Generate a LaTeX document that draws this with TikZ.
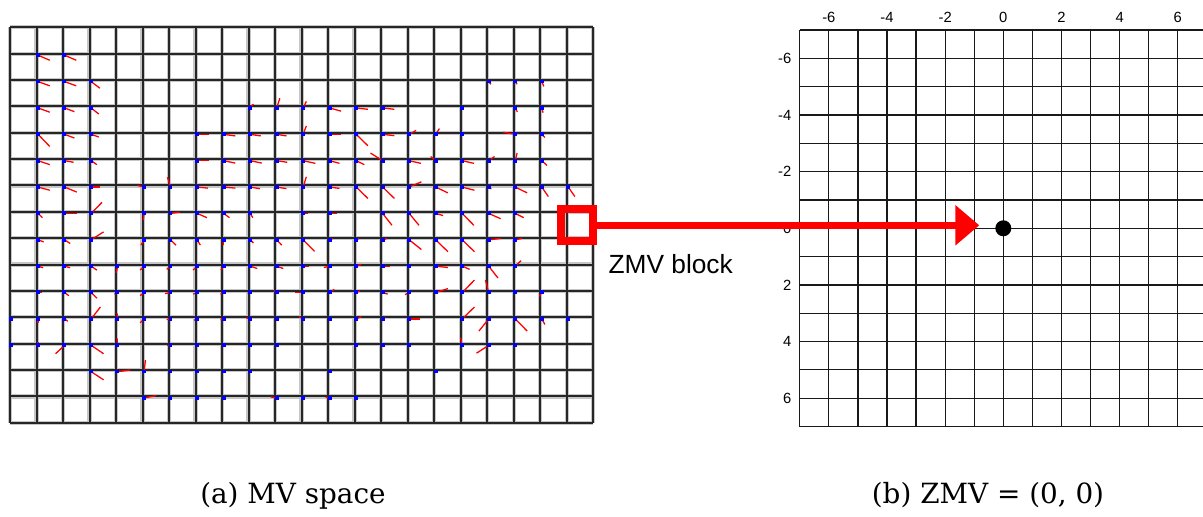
\documentclass[tikz,border=0pt]{standalone}
\usepackage{fontspec}
\setmainfont{DejaVu Serif}
\newfontfamily\sansfont{Liberation Sans}
\usetikzlibrary{arrows.meta}
\tikzset{
  lgrid/.style={black!85, line width=0.05cm, preaction={draw=gray!45, line width=0.105cm}},
  rgrid/.style={black!90, line width=0.03cm},
  mvline/.style={red, line width=0.032cm},
  mvdot/.style={fill=blue},
  tick/.style={font=\sansfont\fontsize{10.5}{12}\selectfont, inner sep=0},
  caption/.style={font=\fontsize{19.8}{22}\selectfont, inner sep=0, anchor=base},
}
%Vecteurs : colonne/ligne/dx/dy
\def\mvdata{1/1/.44/.19, 2/1/.44/.19,
1/2/.44/.16, 2/2/.44/.16, 3/2/.33/.25, 18/2/.08/.1, 19/2/.07/.1, 20/2/.08/.18,
1/3/.44/.16, 2/3/.37/.14, 3/3/.29/.23, 9/3/.12/-.15, 10/3/.12/-.37, 11/3/.12/-.25, 12/3/.43/.12, 13/3/.44/.05, 14/3/.44/.05, 17/3/0/0, 19/3/.08/.15, 20/3/.05/.18,
1/4/.44/.46, 2/4/.37/.14, 3/4/.29/.1, 7/4/.45/0, 8/4/.44/.06, 9/4/.4/.06, 10/4/.37/.06, 11/4/.12/-.32, 12/4/.43/0, 13/4/.44/.43, 14/4/.44/.05, 15/4/.26/-.15, 16/4/.14/-.22, 17/4/0/0, 19/4/-.45/-.08, 20/4/.12/.12,
1/5/.44/.15, 2/5/.34/.06, 3/5/.22/.15, 7/5/.45/0, 8/5/.44/.09, 9/5/.44/.09, 10/5/.4/.06, 11/5/.46/.1, 12/5/.37/.1, 13/5/.31/.15, 14/5/-.46/-.29, 15/5/.44/.1, 16/5/-.19/-.16, 17/5/.44/.1, 18/5/.22/-.16, 19/5/.07/-.29, 20/5/.2/.18,
1/6/.44/.12, 2/6/.46/.19, 3/6/.35/0, 5/6/-.25/-.06, 6/6/-.12/-.37, 7/6/.41/.04, 8/6/.44/.04, 9/6/.37/.06, 10/6/.37/.06, 11/6/.12/-.39, 12/6/.37/.05, 13/6/.44/.43, 14/6/.44/.43, 15/6/.46/-.2, 16/6/.46/.22, 17/6/.46/.12, 18/6/.1/.07, 19/6/.45/.22, 20/6/.25/.36, 21/6/.25/.36,
1/7/.16/.16, 2/7/.46/0, 3/7/.41/-.42, 5/7/-.03/.25, 6/7/.34/-.05, 7/7/.37/.16, 8/7/.22/.16, 9/7/.1/.16, 11/7/.2/0, 12/7/.28/0, 14/7/.35/.45, 15/7/.37/.45, 16/7/.28/.08, 17/7/.44/.45, 18/7/.45/.2, 19/7/.32/.16,
1/8/.21/.08, 2/8/.21/.14, 3/8/.47/-.3, 5/8/-.12/.2, 6/8/.2/.2, 7/8/.12/.2, 8/8/-.02/.2, 9/8/.12/.12, 10/8/.19/.2, 11/8/.43/.44, 12/8/.12/-.05, 13/8/.1/-.05, 14/8/.16/-.05, 15/8/.46/.37, 16/8/.46/.45, 17/8/.46/.45, 18/8/.45/-.05, 19/8/.25/-.05,
1/9/.19/.06, 2/9/.21/.06, 3/9/.22/.15, 4/9/-.05/.25, 5/9/-.15/.15, 6/9/-.15/.12, 7/9/-.15/.15, 8/9/-.1/.15, 9/9/.27/.09, 10/9/.25/.09, 11/9/.21/0, 12/9/-.22/.05, 13/9/.19/-.07, 14/9/.26/0, 15/9/0/0, 16/9/.46/.05, 17/9/.28/.12, 18/9/.35/.45, 19/9/.22/-.21,
1/10/.16/0, 2/10/.16/.12, 3/10/.22/.21, 4/10/-.12/.06, 5/10/-.15/.12, 6/10/-.21/.04, 7/10/-.15/.06, 8/10/-.12/.06, 9/10/-.1/.02, 10/10/-.1/-.08, 11/10/-.29/0, 12/10/.17/-.12, 13/10/.14/-.06, 14/10/.19/.06, 15/10/-.16/.08, 16/10/.46/-.15, 17/10/.46/-.47, 18/10/-.12/-.47, 19/10/0/0, 20/10/-.09/.15,
0/11/0/0, 1/11/0/.15, 2/11/.12/.09, 3/11/.35/-.45, 4/11/-.02/-.21, 5/11/-.15/.15, 6/11/-.15/.02, 7/11/-.12/.05, 8/11/-.12/.02, 9/11/-.15/-.04, 10/11/0/0, 11/11/-.16/-.08, 12/11/0/0, 13/11/.19/-.08, 14/11/.1/-.08, 15/11/.41/0, 17/11/.46/-.45, 18/11/-.37/.46, 19/11/.45/.46, 20/11/.12/.21, 21/11/0/0,
0/12/0/0, 1/12/0/-.14, 2/12/-.34/.32, 3/12/.47/.32, 4/12/-.02/-.26, 6/12/-.12/0, 7/12/0/0, 8/12/0/0, 9/12/0/0, 10/12/0/0, 13/12/0/0, 14/12/0/0, 15/12/0/0, 17/12/-.06/-.29, 18/12/-.46/.3, 19/12/0/0,
3/13/.47/.31, 4/13/.47/-.06, 5/13/.05/-.44, 6/13/0/0, 7/13/0/0, 8/13/0/0, 9/13/0/0, 12/13/0/0, 16/13/0/0,
5/14/.45/-.09, 6/14/0/0, 7/14/0/0, 8/14/0/0, 10/14/-.22/-.04, 11/14/0/0, 12/14/-.15/-.03, 13/14/0/0}
\begin{document}
\begin{tikzpicture}[x=0.025cm, y=-0.025cm]
\useasboundingbox (0,0) rectangle (1203,517);
%Espace des MV
\begin{scope}[shift={(10,27.3)}, x=0.6625cm, y=-0.659cm]
  \draw[lgrid] foreach \i in {0,...,22} {(\i,0) -- (\i,15)} foreach \j in {0,...,15} {(0,\j) -- (22,\j)};
  \foreach \i/\j/\u/\w in \mvdata
    \draw[mvline] (\i+.06,\j+.06) -- ++(\u,\w);
  \foreach \i/\j/\u/\w in \mvdata
    \fill[mvdot] (\i-.02,\j-.02) rectangle ++(.15,.15);
\end{scope}
%Grille ZMV
\begin{scope}[shift={(1003.3,228.3)}, x=0.72675cm, y=-0.70775cm]
  \draw[rgrid] foreach \i in {-7,...,6} {(\i,-7) -- (\i,7)} foreach \j in {-7,...,7} {(-7,\j) -- (6.9,\j)};
  \foreach \v [count=\k] in {-6,-4,...,6} {
    \node[tick, anchor=base] (col\k) at (\v,-7.28) {\v};
    \node[tick, anchor=east] (row\k) at (-7.28,\v) {\v};
  }
  \node[circle, fill=black, minimum size=0.4cm, inner sep=0] (zero) at (0,0) {};
\end{scope}
%Bloc ZMV et fleche
\node[draw=red, line width=0.2cm, minimum size=0.8cm, inner sep=0] (zmvblk) at (577.3,225.3) {};
\coordinate (tip) at (979.3,225.3);
\draw[red, line width=0.175cm, -{Triangle[length=0.6cm, width=0.975cm]}] (zmvblk.east) -- (tip);
\node[font=\sansfont\fontsize{18.7}{22}\selectfont, anchor=base west, inner sep=0] (zmvtxt) at (608.3,274) {ZMV block};
%Legendes
\node[caption] (capa) at (293,503.3) {(a) MV space};
\node[caption] (capb) at (988,503.3) {(b) ZMV = (0, 0)};
\end{tikzpicture}
\end{document}
